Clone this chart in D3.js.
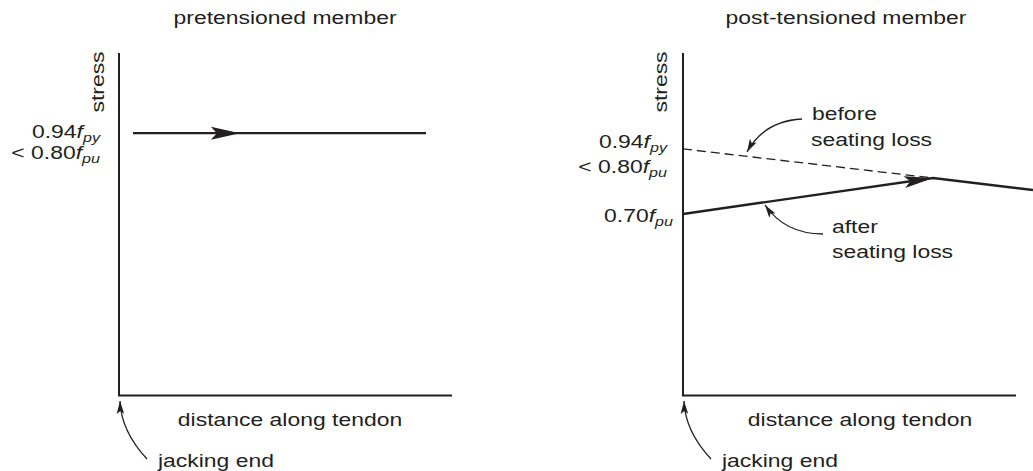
<!DOCTYPE html>
<html>
<head>
<meta charset="utf-8">
<script src="https://cdn.jsdelivr.net/npm/d3@7"></script>
<style>
  html, body { margin: 0; padding: 0; background: #fff; }
  svg { display: block; }
  text { font-family: "Liberation Sans", Arial, Helvetica, sans-serif; fill: #231f20; }
</style>
</head>
<body>
<svg id="chart" width="1033" height="471"></svg>
<script>
// ---- data (normalized distance along tendon 0..1, normalized stress 0..1) ----
const panelTitles = ["pretensioned member", "post-tensioned member"];
const xAxisLabel = "distance along tendon";
const yAxisLabel = "stress";
const jackLabel = "jacking end";

// pretensioned: constant stress
const preDist = [0.042, 0.922];
const preStress = [0.766, 0.766];
const preArrowDist = 0.363;

// post-tensioned: before seating loss (dashed)
const beforeDist = [0, 0.751];
const beforeStress = [0.72, 0.635];
// post-tensioned: after seating loss (solid)
const afterDist = [0, 0.751, 1.051];
const afterStress = [0.53, 0.635, 0.600];
const postArrowIndex = 1;

// stress tick labels
const tickLabels = [
  { pre: "0.94", sub: "py", panel: 0, s: 0.766, dy: 5 },
  { pre: "< 0.80", sub: "pu", panel: 0, s: 0.766, dy: 26 },
  { pre: "0.94", sub: "py", panel: 1, s: 0.72, dy: -1 },
  { pre: "< 0.80", sub: "pu", panel: 1, s: 0.72, dy: 24 },
  { pre: "0.70", sub: "pu", panel: 1, s: 0.53, dy: 8 }
];

// ---- layout ----
const K = 1.24;           // horizontal glyph stretch
const FS = 18.5;
const ink = "#231f20";
const svg = d3.select("#chart");

const y = d3.scaleLinear().domain([0, 1]).range([395.5, 53]);
const xs = [
  d3.scaleLinear().domain([0, 1]).range([119, 452]),
  d3.scaleLinear().domain([0, 1]).range([683, 1016])
];

function label(g, x, yy, str, anchor, opts = {}) {
  const gg = g.append("g").attr("transform", `translate(${x},${yy}) ${opts.rotate ? "rotate(-90)" : ""} scale(${K},1)`);
  const t = gg.append("text").attr("x", 0).attr("y", 0).attr("text-anchor", anchor)
    .style("font-size", FS + "px");
  t.text(str);
  return t;
}

function arrowHead(g, tx, ty, ang, L, w, notch) {
  const ux = Math.cos(ang), uy = Math.sin(ang);
  const vx = -uy, vy = ux;
  const p = [
    [tx, ty],
    [tx - L * ux + w * vx, ty - L * uy + w * vy],
    [tx - (L - notch) * ux, ty - (L - notch) * uy],
    [tx - L * ux - w * vx, ty - L * uy - w * vy]
  ];
  g.append("path").attr("d", "M" + p.map(d => d.join(",")).join("L") + "Z").attr("fill", ink);
}

function curvedArrow(g, x0, y0, cx, cy, x1, y1) {
  g.append("path").attr("d", `M${x0},${y0}Q${cx},${cy} ${x1},${y1}`)
    .attr("fill", "none").attr("stroke", ink).attr("stroke-width", 1.3);
  arrowHead(g, x1, y1, Math.atan2(y1 - cy, x1 - cx), 13, 3.8, 3);
}

const line = (x) => d3.line().x(d => x(d[0])).y(d => y(d[1]));

[0, 1].forEach(p => {
  const x = xs[p];
  const g = svg.append("g");
  // axes
  g.append("path").attr("d", line(x)([[0, 1], [0, 0], [1, 0]]))
    .attr("fill", "none").attr("stroke", ink).attr("stroke-width", 2);
  // titles & axis labels
  label(g, p === 0 ? 285 : 846, 24, panelTitles[p], "middle");
  label(g, p === 0 ? 290 : 860, 426, xAxisLabel, "middle");
  label(g, p === 0 ? 104 : 667, 82, yAxisLabel, "middle", { rotate: true });
  label(g, x(0) + 39, 467, jackLabel, "start");
  curvedArrow(g, x(0) + 28, 459, x(0) + 2, 431, x(0) + 1, 401);
});

// tick labels with italic f and subscript
tickLabels.forEach((t) => {
  const right = t.panel === 0 ? 100 : (t.pre === "0.70" ? 673 : 667);
  const gg = svg.append("g").attr("transform", `translate(${right},${y(t.s) + t.dy}) scale(${K},1)`);
  const tx = gg.append("text").attr("text-anchor", "end").style("font-size", FS + "px");
  tx.append("tspan").text(t.pre);
  tx.append("tspan").style("font-style", "italic").text("f");
  tx.append("tspan").style("font-style", "italic").style("font-size", "13px").attr("dy", 4).text(t.sub);
});

// ---- pretensioned line ----
{
  const x = xs[0];
  svg.append("path").attr("d", line(x)(preDist.map((d, i) => [d, preStress[i]])))
    .attr("fill", "none").attr("stroke", ink).attr("stroke-width", 2.4);
  arrowHead(svg, x(preArrowDist), y(preStress[0]), 0, 29, 6.5, 6);
}

// ---- post-tensioned lines ----
{
  const x = xs[1];
  svg.append("path").attr("d", line(x)(beforeDist.map((d, i) => [d, beforeStress[i]])))
    .attr("fill", "none").attr("stroke", ink).attr("stroke-width", 1.3)
    .attr("stroke-dasharray", "9,5");
  svg.append("path").attr("d", line(x)(afterDist.map((d, i) => [d, afterStress[i]])))
    .attr("fill", "none").attr("stroke", ink).attr("stroke-width", 2.4);
  const tx = x(afterDist[postArrowIndex]), ty = y(afterStress[postArrowIndex]);
  const ang = Math.atan2(ty - y(afterStress[0]), tx - x(afterDist[0]));
  arrowHead(svg, tx, ty, ang, 29, 6, 6);

  // annotations
  label(svg, 812, 120, "before", "start");
  label(svg, 811, 146, "seating loss", "start");
  curvedArrow(svg, 802, 119, 764, 121, 747, 152);
  label(svg, 832, 233, "after", "start");
  label(svg, 832, 258, "seating loss", "start");
  curvedArrow(svg, 823, 234, 785, 234, 765, 205);
}
</script>
</body>
</html>
